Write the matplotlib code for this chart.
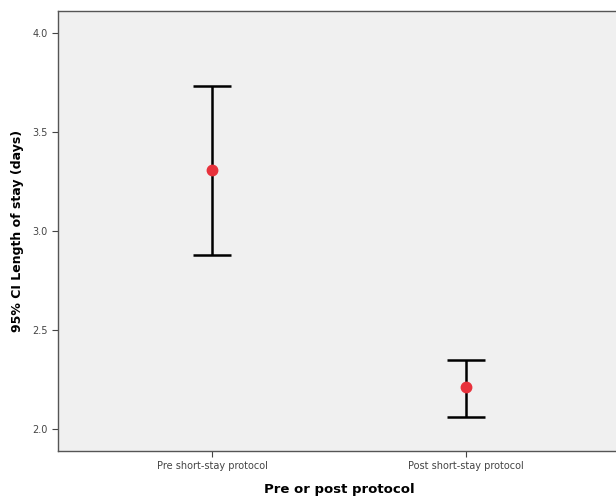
import matplotlib.pyplot as plt
import numpy as np

groups = ["Pre short-stay protocol", "Post short-stay protocol"]
means = np.array([3.31, 2.21])
lower = np.array([2.88, 2.06])
upper = np.array([3.73, 2.35])

fig = plt.figure(figsize=(6.16, 4.96), dpi=100)
ax = fig.add_axes([58 / 616, 45 / 496, 562 / 616, 440 / 496])
ax.set_facecolor("#f0f0f0")

x = np.arange(len(groups))
yerr = np.vstack([means - lower, upper - means])
ax.errorbar(x, means, yerr=yerr, fmt="none", ecolor="black", elinewidth=1.8,
            capsize=14, capthick=1.8)
ax.plot(x, means, "o", color="#e8323c", markersize=7.5, zorder=3)

ax.set_xlim(-0.606, 1.606)
ax.set_ylim(1.889, 4.111)
ax.set_yticks([2.0, 2.5, 3.0, 3.5, 4.0])
ax.set_yticklabels(["2.0", "2.5", "3.0", "3.5", "4.0"])
ax.set_xticks(x)
ax.set_xticklabels(groups)
ax.tick_params(labelsize=7, colors="#444444", length=4, width=0.8)

for s in ax.spines.values():
    s.set_color("#555555")
    s.set_linewidth(1.0)

ax.set_ylabel("95% CI Length of stay (days)", fontsize=9, fontweight="bold", labelpad=6)
ax.set_xlabel("Pre or post protocol", fontsize=9.5, fontweight="bold", labelpad=8)

fig.savefig("out.png", dpi=100)
